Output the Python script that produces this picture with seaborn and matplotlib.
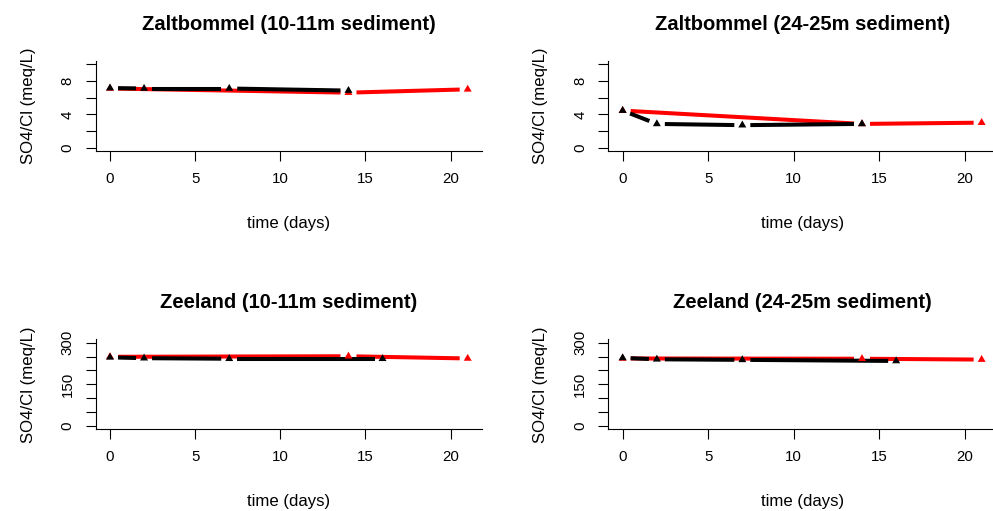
import numpy as np
import pandas as pd
import matplotlib
matplotlib.use("Agg")
import matplotlib.pyplot as plt
import seaborn as sns

sns.set_style("white")
plt.rcParams["font.family"] = ["Liberation Sans", "DejaVu Sans"]
plt.rcParams["text.color"] = "#000000"
plt.rcParams["axes.labelcolor"] = "#000000"

# ---- data: SO4/Cl ratio (meq/L) over incubation time (days) ----
titles = ["Zaltbommel (10-11m sediment)", "Zaltbommel (24-25m sediment)",
          "Zeeland (10-11m sediment)", "Zeeland (24-25m sediment)"]

zalt10_black_days = [0, 2, 7, 14]
zalt10_black = [7.15, 7.1, 7.1, 6.85]
zalt10_red_days = [0, 14, 21]
zalt10_red = [7.1, 6.6, 7.0]

zalt24_black_days = [0, 2, 7, 14]
zalt24_black = [4.45, 2.85, 2.7, 2.85]
zalt24_red_days = [0, 14, 21]
zalt24_red = [4.45, 2.85, 3.0]

zee10_black_days = [0, 2, 7, 16]
zee10_black = [247, 244, 242, 242]
zee10_red_days = [0, 14, 21]
zee10_red = [249, 251, 243]

zee24_black_days = [0, 2, 7, 16]
zee24_black = [245, 240, 238, 234]
zee24_red_days = [0, 14, 21]
zee24_red = [243, 242, 239]

x_ticks = [0, 5, 10, 15, 20]
zalt_y_ticks = [0, 2, 4, 6, 8, 10]
zalt_y_labels = ["0", "", "4", "", "8", ""]
zee_y_ticks = [0, 50, 100, 150, 200, 250, 300]
zee_y_labels = ["0", "", "", "150", "", "", "300"]

panels = [
    (titles[0], zalt10_black_days, zalt10_black, zalt10_red_days, zalt10_red,
     zalt_y_ticks, zalt_y_labels),
    (titles[1], zalt24_black_days, zalt24_black, zalt24_red_days, zalt24_red,
     zalt_y_ticks, zalt_y_labels),
    (titles[2], zee10_black_days, zee10_black, zee10_red_days, zee10_red,
     zee_y_ticks, zee_y_labels),
    (titles[3], zee24_black_days, zee24_black, zee24_red_days, zee24_red,
     zee_y_ticks, zee_y_labels),
]

# ---- layout (pixel geometry of a 993 x 511 canvas) ----
W, H = 993, 511
fig = plt.figure(figsize=(W / 100, H / 100), dpi=100)


def px_rect(x0, x1, ytop, ybot):
    return [x0 / W, 1 - ybot / H, (x1 - x0) / W, (ybot - ytop) / H]


rects = [px_rect(95.7, 482.0, 61.0, 151.0), px_rect(608.3, 996.0, 61.0, 151.0),
         px_rect(95.7, 482.0, 339.3, 429.3), px_rect(608.3, 996.0, 339.3, 429.3)]

# filled triangle centred on its centroid
tri = [(0.0, 1.555), (1.347, -0.778), (-1.347, -0.778)]
GAP_PX = 8.0
LW = 2.9


def gapped_segments(ax, xs, ys, gap):
    """Segments between consecutive points, trimmed by `gap` pixels at each end."""
    pts = ax.transData.transform(np.column_stack([xs, ys]))
    inv = ax.transData.inverted()
    rows = []
    for i in range(len(pts) - 1):
        p0, p1 = pts[i], pts[i + 1]
        d = p1 - p0
        length = np.hypot(*d)
        if length <= 2 * gap:
            continue
        u = d / length
        a, b = inv.transform([p0 + u * gap, p1 - u * gap])
        rows.append((i, a[0], a[1]))
        rows.append((i, b[0], b[1]))
    return pd.DataFrame(rows, columns=["seg", "day", "ratio"])


def draw_series(ax, days, vals, color):
    seg = gapped_segments(ax, days, vals, GAP_PX)
    sns.lineplot(data=seg, x="day", y="ratio", units="seg", estimator=None,
                 sort=False, color=color, linewidth=LW, ax=ax, legend=False,
                 solid_capstyle="butt")
    sns.scatterplot(x=days, y=vals, color=color, marker=tri, s=44,
                    edgecolor="none", linewidth=0, ax=ax, legend=False, zorder=3)


for rect, (title, bd, bv, rd, rv, yt, yl) in zip(rects, panels):
    ax = fig.add_axes(rect)
    ymax = yt[-1]
    ax.set_xlim(-0.84, 21.84)
    ax.set_ylim(-0.04 * ymax, 1.04 * ymax)

    draw_series(ax, rd, rv, "#ff0000")
    draw_series(ax, bd, bv, "#000000")

    ax.set_xlim(-0.84, 21.84)
    ax.set_ylim(-0.04 * ymax, 1.04 * ymax)

    ax.set_xticks(x_ticks)
    ax.set_xticklabels([str(t) for t in x_ticks])
    ax.set_yticks(yt)
    ax.set_yticklabels(yl)
    ax.tick_params(axis="both", direction="out", length=7.2, width=0.8,
                   bottom=True, left=True, top=False, right=False,
                   color="#000000", labelsize=10.8, labelcolor="#000000")
    ax.tick_params(axis="x", pad=8)
    ax.tick_params(axis="y", pad=8, labelrotation=90)
    for lab in ax.get_yticklabels():
        lab.set_va("center")

    for side in ("top", "right"):
        ax.spines[side].set_visible(False)
    for side in ("left", "bottom"):
        ax.spines[side].set_color("#000000")
        ax.spines[side].set_linewidth(0.8)

    ax.set_xlabel("time (days)", fontsize=12.1, color="#000000")
    ax.xaxis.label.set_va("baseline")
    ax.xaxis.set_label_coords(0.5, -77 / 90)
    ax.set_ylabel("SO4/Cl (meq/L)", fontsize=12.1, color="#000000")
    ax.yaxis.label.set_va("baseline")
    ax.yaxis.set_label_coords(-63 / 387.5, 0.5)

    ax.set_title(title, fontsize=14.5, fontweight="bold", color="#000000",
                 y=1 + 31 / 90, pad=0)
    ax.grid(False)

fig.savefig("out.png", dpi=100)
